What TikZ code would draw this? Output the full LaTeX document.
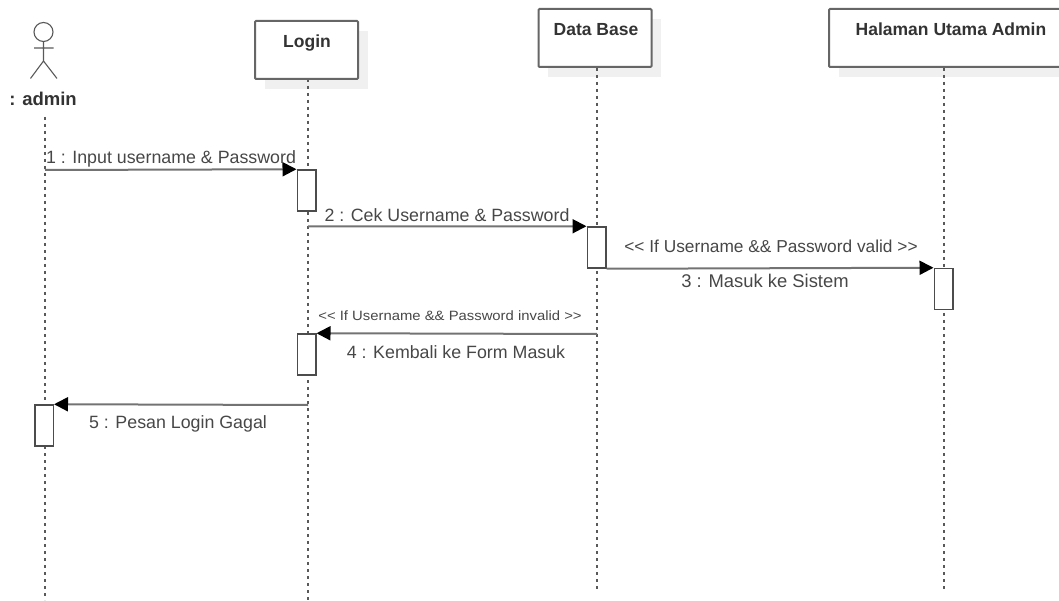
\documentclass[tikz,border=0pt]{standalone}
\usepackage{fontspec}
\setmainfont{Liberation Sans}
\usetikzlibrary{arrows.meta}
\tikzset{
  lane/.style={draw=black!60,line width=2pt,fill=white,rounded corners=1pt,inner sep=0pt,minimum height=58pt},
  laneshadow/.style={fill=black!6,draw=none},
  lanetitle/.style={font=\fontsize{17.5}{20}\selectfont\bfseries,text=black!80,inner sep=0pt,anchor=base},
  life/.style={draw=black!65,line width=1.6pt,dash pattern=on 3pt off 4pt},
  act/.style={draw=black!70,line width=1.5pt,fill=white,minimum width=18.5pt,minimum height=41pt,inner sep=0pt},
  msg/.style={draw=black!55,line width=2pt,-{Triangle[length=14pt,width=14pt,fill=black,color=black]}},
  msgtext/.style={font=\fontsize{17.8}{20}\selectfont,text=black!72,inner sep=0pt,anchor=base},
  stick/.style={draw=black!65,line width=1.1pt}
}
\begin{document}
\begin{tikzpicture}[x=1pt,y=-1pt]
\useasboundingbox (0,0) rectangle (1059,601);
% shadows
\fill[laneshadow] (265,31) rectangle (368,89);
\fill[laneshadow] (548,19) rectangle (661,77);
\fill[laneshadow] (839,19) rectangle (1059,77);
% lifeline ends
\coordinate (adminTop) at (45,117);
\coordinate (adminEnd) at (45,600);
\coordinate (loginTop) at (308,79);
\coordinate (loginEnd) at (308,600);
\coordinate (dbTop) at (597,68);
\coordinate (dbEnd) at (597,592);
\coordinate (haTop) at (944,68);
\coordinate (haEnd) at (944,592);
% lifelines
\draw[life] (adminTop) -- (adminEnd);
\draw[life] (loginTop) -- (loginEnd);
\draw[life] (dbTop) -- (dbEnd);
\draw[life] (haTop) -- (haEnd);
% lane boxes
\node[lane,minimum width=103pt] (login) at (306.5,50) {};
\node[lane,minimum width=113pt] (db) at (595,38) {};
\node[lane,minimum width=232pt] (ha) at (945,38) {};
\node[lanetitle] (loginT) at (307,48) {Login};
\node[lanetitle] (dbT) at (596,36) {Data Base};
\node[lanetitle] (haT) at (951,36) {Halaman Utama Admin};
% actor
\draw[stick] (43.5,32) circle (9.5);
\draw[stick] (43.5,41.5) -- (43.5,61) (34,48) -- (53.5,48) (30.5,78.5) -- (43.5,61) -- (57,78.5);
\node[lanetitle,font=\fontsize{18.5}{20}\selectfont\bfseries] (adminT) at (43,106) {: admin};
% activations
\node[act] (a1) at (306.5,190.5) {};
\node[act] (a2) at (596.5,247.5) {};
\node[act] (a3) at (943.5,289) {};
\node[act] (a4) at (306.5,354.5) {};
\node[act] (a5) at (44,425.5) {};
% message starts
\coordinate (m1s) at (45,170);
\coordinate (m2s) at (308,226.5);
\coordinate (m4s) at (597,334);
\coordinate (m5s) at (308,405);
% messages
\draw[msg] (m1s) -- (a1.north west);
\draw[msg] (m2s) -- (a2.north west);
\draw[msg] (a2.south east) -- (a3.north west);
\draw[msg] (m4s) -- (a4.north east);
\draw[msg] (m5s) -- (a5.north east);
% labels
\node[msgtext] (t1) at (171,164) {1 : Input username \& Password};
\node[msgtext] (t2) at (447,222) {2 : Cek Username \& Password};
\node[msgtext,font=\fontsize{17.3}{20}\selectfont] (t3a) at (771,253) {<{}< If Username \&\& Password valid >{}>};
\node[msgtext,font=\fontsize{18.4}{20}\selectfont] (t3) at (765,288) {3 : Masuk ke Sistem};
\node[msgtext,font=\fontsize{13.5}{15}\selectfont,xscale=1.1] (t4a) at (450,320) {<{}< If Username \&\& Password invalid >{}>};
\node[msgtext] (t4) at (456,358) {4 : Kembali ke Form Masuk};
\node[msgtext] (t5) at (178,428) {5 : Pesan Login Gagal};
\end{tikzpicture}
\end{document}
